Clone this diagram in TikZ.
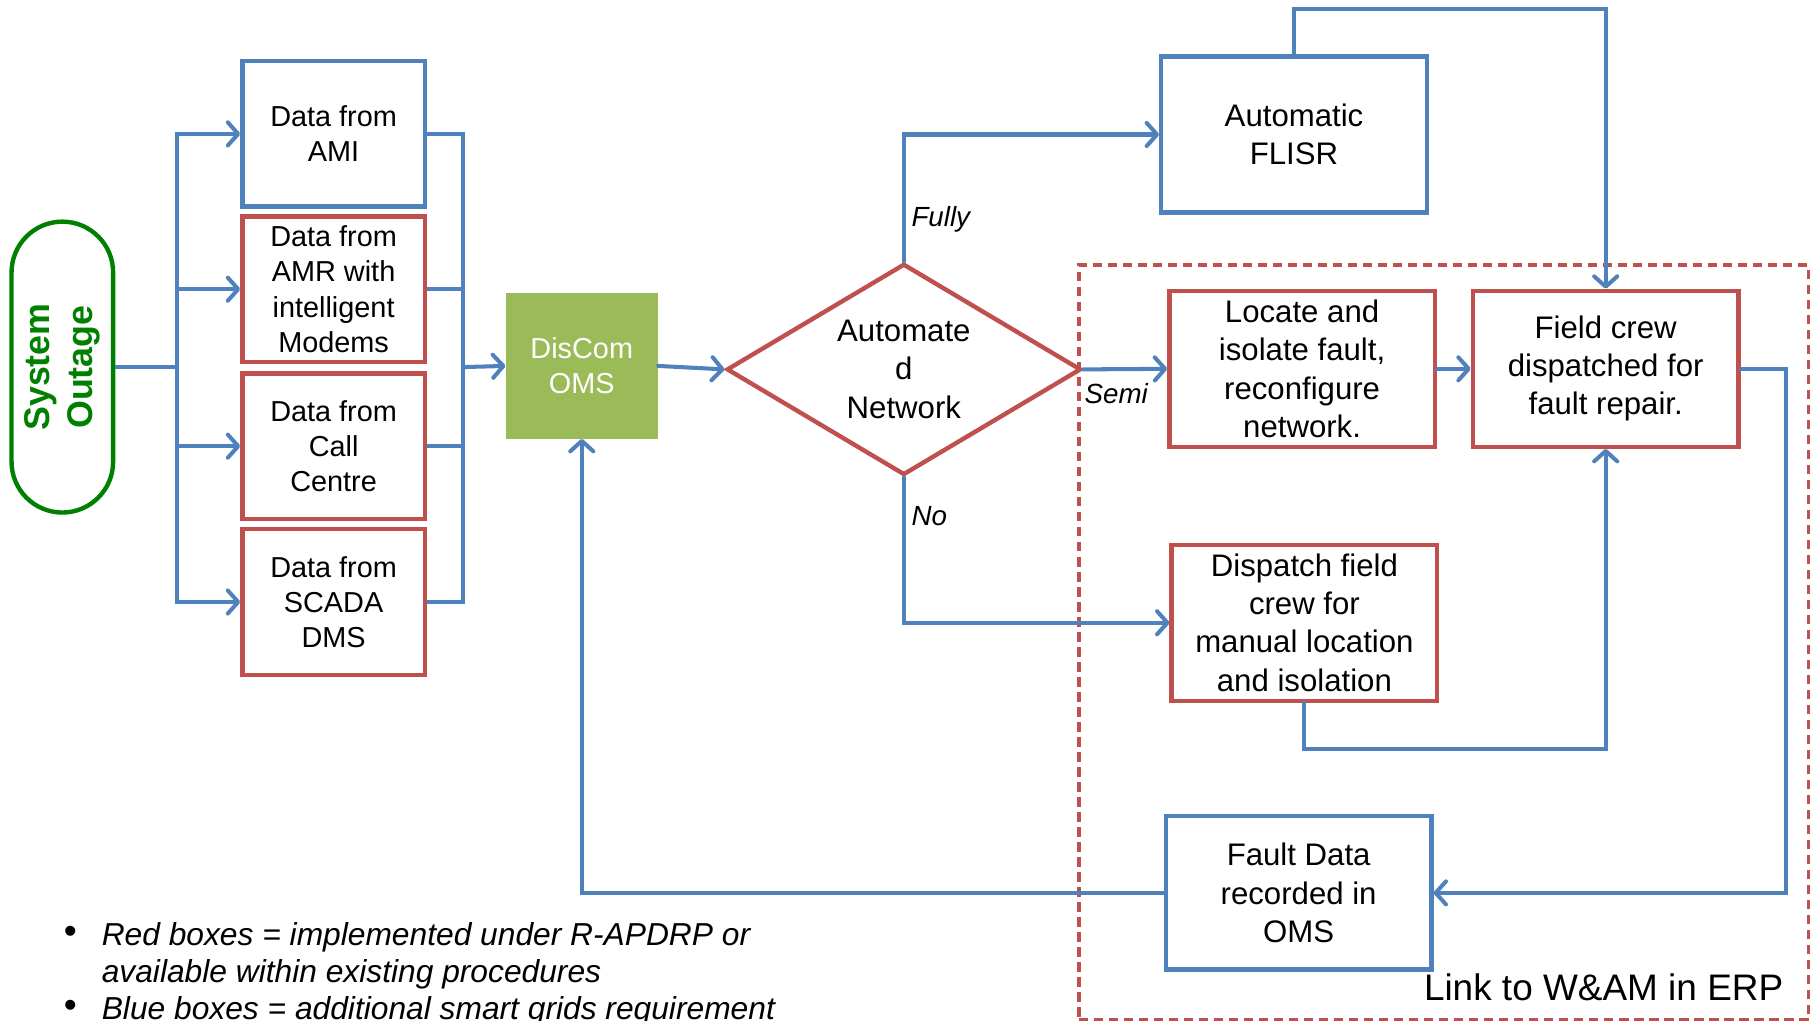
\documentclass[tikz,border=0pt]{standalone}
\usepackage{fontspec}
\setmainfont{Liberation Sans}
\usetikzlibrary{arrows.meta,shapes.geometric}
\definecolor{bblue}{HTML}{4F81BD}
\definecolor{rred}{HTML}{C0504D}
\definecolor{ggreen}{HTML}{9BBB59}
\definecolor{dgreen}{HTML}{008000}
\begin{document}
\begin{tikzpicture}[x=1pt,y=-1pt,
 box/.style={draw, line width=3.8pt, align=center, inner sep=2pt, font=\fontsize{27}{33}\selectfont},
 smallbox/.style={box, minimum width=158pt, minimum height=126pt, font=\fontsize{25}{30.5}\selectfont},
 bigbox/.style={box, minimum width=230pt, minimum height=135pt},
 bluecol/.style={draw=bblue},
 redcol/.style={draw=rred},
 conn/.style={draw=bblue, line width=3.5pt, line cap=round, -{Straight Barb[length=9pt,width=20pt,line cap=round,line join=round]}},
 plain/.style={draw=bblue, line width=3.5pt},
 lbl/.style={font=\fontsize{24}{28}\selectfont\itshape, inner sep=0pt},
 bul/.style={font=\fontsize{27.5}{32}\selectfont\itshape, inner sep=0pt, anchor=base west},
 dot/.style={font=\fontsize{32}{32}\selectfont, inner sep=0pt}]

\useasboundingbox (0,0) rectangle (1568,884);
\clip (0,0) rectangle (1568,884);

% dashed region
\node[draw=rred, dash pattern=on 8pt off 5pt, line width=3.5pt, minimum width=632pt, minimum height=654pt, inner sep=0pt, anchor=north west] (erp) at (933,228) {};
\node[font=\fontsize{32}{36}\selectfont, inner sep=0pt, anchor=base east] (link) at (1545,867) {Link to W\&AM in ERP};

% system outage
\node[draw=dgreen, line width=3.8pt, rounded corners=44pt, minimum width=252pt, minimum height=88pt, rotate=90, text=dgreen, font=\bfseries\fontsize{31}{37}\selectfont, align=center, inner sep=0pt] (so) at (54,318) {System\\Outage};

% data boxes
\node[smallbox, bluecol] (ami) at (289,116) {Data from\\AMI};
\node[smallbox, redcol] (amr) at (289,250.5) {Data from\\AMR with\\intelligent\\Modems};
\node[smallbox, redcol] (call) at (289,386.5) {Data from\\Call\\Centre};
\node[smallbox, redcol] (scada) at (289,521.5) {Data from\\SCADA\\DMS};

% OMS
\node[fill=ggreen, minimum width=132pt, minimum height=126pt, align=center, text=white, font=\fontsize{25}{30}\selectfont, inner sep=0pt] (oms) at (504,317) {DisCom\\OMS};

% diamond
\node[diamond, aspect=1.68, draw=rred, line width=3.8pt, minimum width=307pt, minimum height=183pt, inner sep=0pt, align=center, font=\fontsize{27}{33}\selectfont] (dia) at (783,320) {Automate\\d\\Network};

% right boxes
\node[bigbox, bluecol] (flisr) at (1121,116.5) {Automatic\\FLISR};
\node[bigbox, redcol] (loc) at (1128,319.5) {Locate and\\isolate fault,\\reconfigure\\network.};
\node[bigbox, redcol] (field) at (1391,319.5) {Field crew\\dispatched for\\fault repair.};
\node[bigbox, redcol] (disp) at (1130,539.5) {Dispatch field\\crew for\\manual location\\and isolation};
\node[bigbox, bluecol, minimum height=133pt] (fault) at (1125,773.5) {Fault Data\\recorded in\\OMS};

% junctions
\coordinate (jL) at (153,318);
\coordinate (jR) at (401,318);

\draw[plain] (so.south) -- (jL);
\draw[conn] (jL) |- (ami.west);
\draw[conn] (jL) |- (amr.west);
\draw[conn] (jL) |- (call.west);
\draw[conn] (jL) |- (scada.west);

\draw[plain] (ami.east) -| (jR);
\draw[plain] (amr.east) -| (jR);
\draw[plain] (call.east) -| (jR);
\draw[plain] (scada.east) -| (jR);
\draw[conn] (jR) -- (oms.west);

\draw[conn] (oms.east) -- (dia.west);

\draw[conn] (dia.north) |- (flisr.west);
\node[lbl] (fully) at (815,190) {Fully};
\draw[conn] (flisr.north) -- ++(0,-39) -| (field.north);

\draw[conn] (dia.east) -- (loc.west);
\node[lbl] (semi) at (967,341) {Semi};
\draw[conn] (loc.east) -- (field.west);

\draw[conn] (dia.south) |- (disp.west);
\node[lbl] (no) at (805,447) {No};
\draw[conn] (disp.south) -- ++(0,40) -| (field.south);

\draw[conn] (field.east) -- ++(39,0) |- (fault.east);
\draw[conn] (fault.west) -| (oms.south);

% legend
\node[dot] (b1) at (61,810) {•};
\node[bul] (l1) at (88,819) {Red boxes = implemented under R-APDRP or};
\node[bul] (l2) at (88,851) {available within existing procedures};
\node[dot] (b2) at (61,874) {•};
\node[bul] (l3) at (88,883) {Blue boxes = additional smart grids requirement};
\end{tikzpicture}
\end{document}
